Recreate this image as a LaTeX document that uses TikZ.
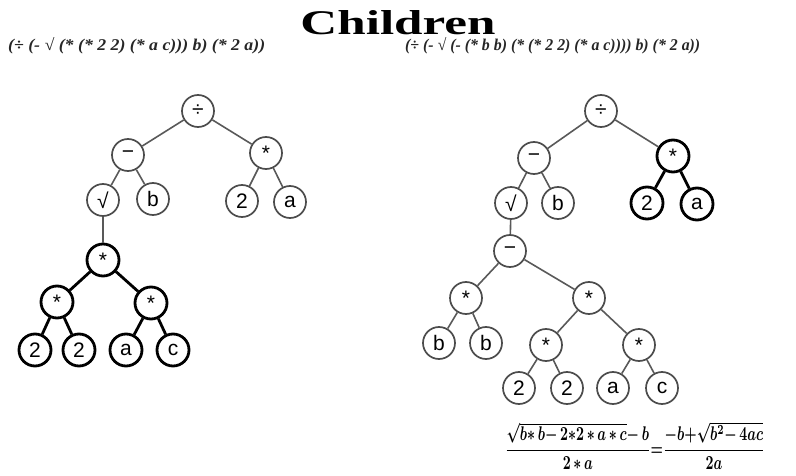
\documentclass[tikz,border=0pt]{standalone}
\usepackage{fontspec}
\setmainfont{Liberation Serif}
\setsansfont{Liberation Sans}
\usepackage{graphicx}
\begin{document}
\begin{tikzpicture}[x=1pt,y=-1pt,
  nd/.style={circle, draw=black!70, line width=1.7pt, minimum size=32pt, inner sep=0pt,
    fill=white, font=\sffamily\fontsize{21}{21}\selectfont},
  hot/.style={draw=black, line width=2.8pt},
  ln/.style={draw=black!65, line width=1.6pt},
  hl/.style={draw=black, line width=2.8pt},
  expr/.style={anchor=west, inner sep=0pt, text=black!85}]
\useasboundingbox (0,0) rectangle (796,476);

% heading
\node[inner sep=0pt] (title) at (398,23)
  {\resizebox{195pt}{24pt}{\bfseries Children}};

% prefix forms of both trees
\node[expr] (exl) at (8,46) {\resizebox{257pt}{13pt}{\bfseries\itshape (÷ (- √ (* (* 2 2) (* a c))) b) (* 2 a))}};
\node[expr] (exr) at (405,46) {\resizebox{295pt}{13pt}{\bfseries\itshape (÷ (- √ (- (* b b) (* (* 2 2) (* a c)))) b) (* 2 a))}};

% left tree
\node[nd] (L0) at (198,111) {÷};
\node[nd] (L1) at (128,155) {−};
\node[nd] (L2) at (266,153) {*};
\node[nd] (L3) at (103,200) {√};
\node[nd] (L4) at (153,199) {b};
\node[nd] (L5) at (242,201) {2};
\node[nd] (L6) at (290,202) {a};
\node[nd,hot] (L7) at (103,260) {*};
\node[nd,hot] (L8) at (57,302) {*};
\node[nd,hot] (L9) at (151,303) {*};
\node[nd,hot] (L10) at (35,350) {2};
\node[nd,hot] (L11) at (79,350) {2};
\node[nd,hot] (L12) at (126,350) {a};
\node[nd,hot] (L13) at (173,350) {c};

\draw[ln] (L0) -- (L1);
\draw[ln] (L0) -- (L2);
\draw[ln] (L1) -- (L3);
\draw[ln] (L1) -- (L4);
\draw[ln] (L2) -- (L5);
\draw[ln] (L2) -- (L6);
\draw[ln] (L3) -- (L7);
\draw[hl] (L7) -- (L8);
\draw[hl] (L7) -- (L9);
\draw[hl] (L8) -- (L10);
\draw[hl] (L8) -- (L11);
\draw[hl] (L9) -- (L12);
\draw[hl] (L9) -- (L13);

% right tree
\node[nd] (R0) at (601,111) {÷};
\node[nd] (R1) at (534,158) {−};
\node[nd,hot] (R2) at (673,156) {*};
\node[nd] (R3) at (511,203) {√};
\node[nd] (R4) at (558,203) {b};
\node[nd,hot] (R5) at (647,203) {2};
\node[nd,hot] (R6) at (697,204) {a};
\node[nd] (R7) at (510,251) {−};
\node[nd] (R8) at (466,298) {*};
\node[nd] (R9) at (589,298) {*};
\node[nd] (R10) at (439,343) {b};
\node[nd] (R11) at (486,343) {b};
\node[nd] (R12) at (546,345) {*};
\node[nd] (R13) at (639,345) {*};
\node[nd] (R14) at (519,388) {2};
\node[nd] (R15) at (567,388) {2};
\node[nd] (R16) at (613,388) {a};
\node[nd] (R17) at (662,388) {c};

\draw[ln] (R0) -- (R1);
\draw[ln] (R0) -- (R2);
\draw[ln] (R1) -- (R3);
\draw[ln] (R1) -- (R4);
\draw[hl] (R2) -- (R5);
\draw[hl] (R2) -- (R6);
\draw[ln] (R3) -- (R7);
\draw[ln] (R7) -- (R8);
\draw[ln] (R7) -- (R9);
\draw[ln] (R8) -- (R10);
\draw[ln] (R8) -- (R11);
\draw[ln] (R9) -- (R12);
\draw[ln] (R9) -- (R13);
\draw[ln] (R12) -- (R14);
\draw[ln] (R12) -- (R15);
\draw[ln] (R13) -- (R16);
\draw[ln] (R13) -- (R17);

% closed form
\node[inner sep=0pt] (formula) at (635,446)
  {\resizebox{260pt}{33pt}{\boldmath$\displaystyle \frac{\sqrt{b{*}\,b{-}\,2{*}2\,{*}\,a\,{*}\,c}{-}\,b}{2\,{*}\,a}{=}\frac{{-}b{+}\sqrt{b^2{-}\,4ac}}{2a}$}};
\end{tikzpicture}
\end{document}
